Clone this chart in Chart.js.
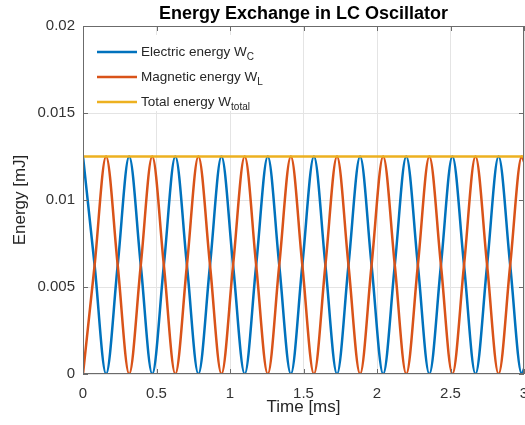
<!DOCTYPE html>
<html>
<head>
<meta charset="utf-8">
<script src="https://cdn.jsdelivr.net/npm/chart.js@4.4.1/dist/chart.umd.min.js"></script>
<style>
  body { margin: 0; background: #fff; }
  canvas { display: block; }
</style>
</head>
<body>
<canvas id="lcChart" width="525" height="425"></canvas>
<script>
// time samples at peaks, zero-crossings and troughs (ms)
const timeMs = [
    0, 0.079, 0.157, 0.236,
    0.314, 0.393, 0.471, 0.550,
    0.628, 0.707, 0.785, 0.864,
    0.942, 1.021, 1.100, 1.178,
    1.257, 1.335, 1.414, 1.492,
    1.571, 1.649, 1.728, 1.806,
    1.885, 1.963, 2.042, 2.121,
    2.199, 2.278, 2.356, 2.435,
    2.513, 2.592, 2.670, 2.749,
    2.827, 2.906, 2.985, 3.0
];

// energy values (mJ)
const electricEnergy = [
    0.0125, 0.00625, 0, 0.00625,
    0.0125, 0.00625, 0, 0.00625,
    0.0125, 0.00625, 0, 0.00625,
    0.0125, 0.00625, 0, 0.00625,
    0.0125, 0.00625, 0, 0.00625,
    0.0125, 0.00625, 0, 0.00625,
    0.0125, 0.00625, 0, 0.00625,
    0.0125, 0.00625, 0, 0.00625,
    0.0125, 0.00625, 0, 0.00625,
    0.0125, 0.00625, 0, 0.0003
];
const magneticEnergy = [
    0, 0.00625, 0.0125, 0.00625,
    0, 0.00625, 0.0125, 0.00625,
    0, 0.00625, 0.0125, 0.00625,
    0, 0.00625, 0.0125, 0.00625,
    0, 0.00625, 0.0125, 0.00625,
    0, 0.00625, 0.0125, 0.00625,
    0, 0.00625, 0.0125, 0.00625,
    0, 0.00625, 0.0125, 0.00625,
    0, 0.00625, 0.0125, 0.00625,
    0, 0.00625, 0.0125, 0.0122
];
const totalEnergy = [
    0.0125, 0.0125, 0.0125, 0.0125,
    0.0125, 0.0125, 0.0125, 0.0125,
    0.0125, 0.0125, 0.0125, 0.0125,
    0.0125, 0.0125, 0.0125, 0.0125,
    0.0125, 0.0125, 0.0125, 0.0125,
    0.0125, 0.0125, 0.0125, 0.0125,
    0.0125, 0.0125, 0.0125, 0.0125,
    0.0125, 0.0125, 0.0125, 0.0125,
    0.0125, 0.0125, 0.0125, 0.0125,
    0.0125, 0.0125, 0.0125, 0.0125
];

const xTickValues = [0, 0.5, 1, 1.5, 2, 2.5, 3];
const xTickLabels = ['0', '0.5', '1', '1.5', '2', '2.5', '3'];
const yTickValues = [0, 0.005, 0.01, 0.015, 0.02];
const yTickLabels = ['0', '0.005', '0.01', '0.015', '0.02'];

const chartTitle = 'Energy Exchange in LC Oscillator';
const seriesNames = ['Electric energy W', 'Magnetic energy W', 'Total energy W'];
const seriesSubs = ['C', 'L', 'total'];
const seriesColors = ['#0072BD', '#D95319', '#EDB120'];

const FONT = "'Liberation Sans', Arial, sans-serif";

function toPoints(values) {
    return timeMs.map((t, i) => ({ x: t, y: values[i] }));
}

// MATLAB-like box, inward ticks, title over the axes and a legend with subscripts
const matlabFrame = {
    id: 'matlabFrame',
    afterDraw(chart) {
        const { ctx, chartArea: a, scales: { x, y } } = chart;
        ctx.save();

        ctx.strokeStyle = '#6b6b6b';
        ctx.lineWidth = 1;
        ctx.strokeRect(a.left + 0.5, a.top + 0.5, a.right - a.left - 1, a.bottom - a.top - 1);

        ctx.beginPath();
        xTickValues.forEach(v => {
            const px = Math.round(x.getPixelForValue(v)) + 0.5;
            ctx.moveTo(px, a.bottom); ctx.lineTo(px, a.bottom - 5);
            ctx.moveTo(px, a.top); ctx.lineTo(px, a.top + 5);
        });
        yTickValues.forEach(v => {
            const py = Math.round(y.getPixelForValue(v)) + 0.5;
            ctx.moveTo(a.left, py); ctx.lineTo(a.left + 5, py);
            ctx.moveTo(a.right, py); ctx.lineTo(a.right - 5, py);
        });
        ctx.stroke();

        // title, centred on the axes
        ctx.fillStyle = '#000';
        ctx.font = 'bold 18px ' + FONT;
        ctx.textAlign = 'center';
        ctx.textBaseline = 'middle';
        ctx.fillText(chartTitle, (a.left + a.right) / 2, 14);

        // legend
        ctx.textAlign = 'left';
        ctx.fillStyle = '#fff';
        ctx.fillRect(a.left + 3, 35, 185, 76);
        seriesNames.forEach((name, i) => {
            const yy = 52 + i * 25;
            ctx.strokeStyle = seriesColors[i];
            ctx.lineWidth = 2.5;
            ctx.beginPath();
            ctx.moveTo(97, yy);
            ctx.lineTo(137, yy);
            ctx.stroke();
            ctx.fillStyle = '#262626';
            ctx.font = '13.5px ' + FONT;
            ctx.fillText(name, 141, yy);
            const w = ctx.measureText(name).width;
            ctx.font = '10px ' + FONT;
            ctx.fillText(seriesSubs[i], 141 + w, yy + 5);
        });
        ctx.restore();
    }
};

const ctx = document.getElementById('lcChart').getContext('2d');

new Chart(ctx, {
    type: 'line',
    data: {
        datasets: [0, 1, 2].map(i => ({
            label: seriesNames[i] + seriesSubs[i],
            data: toPoints([electricEnergy, magneticEnergy, totalEnergy][i]),
            borderColor: seriesColors[i],
            backgroundColor: seriesColors[i],
            borderWidth: 2.5,
            pointRadius: 0,
            cubicInterpolationMode: 'monotone',
            order: 3 - i
        }))
    },
    options: {
        responsive: false,
        animation: false,
        layout: { padding: { left: 0, right: 1, top: 26, bottom: 0 } },
        plugins: {
            legend: { display: false },
            tooltip: { enabled: false },
            title: { display: false }
        },
        scales: {
            x: {
                type: 'linear',
                min: 0,
                max: 3,
                border: { display: false },
                grid: { color: '#e4e4e4', drawTicks: false },
                afterBuildTicks: s => { s.ticks = xTickValues.map(v => ({ value: v })); },
                afterFit: s => { s.height = 51; s.paddingLeft = 0; s.paddingRight = 0; },
                ticks: {
                    padding: 11,
                    maxRotation: 0,
                    color: '#333',
                    font: { family: FONT, size: 15 },
                    callback: (v, i) => xTickLabels[i]
                },
                title: {
                    display: true,
                    text: 'Time [ms]',
                    color: '#262626',
                    font: { family: FONT, size: 17, lineHeight: 1.2 },
                    padding: { top: 0, bottom: 7 }
                }
            },
            y: {
                min: 0,
                max: 0.02,
                border: { display: false },
                grid: { color: '#e4e4e4', drawTicks: false },
                afterBuildTicks: s => { s.ticks = yTickValues.map(v => ({ value: v })); },
                afterFit: s => { s.width = 83; s.paddingTop = 0; s.paddingBottom = 0; },
                ticks: {
                    padding: 8,
                    color: '#333',
                    font: { family: FONT, size: 15 },
                    callback: (v, i) => yTickLabels[i]
                },
                title: {
                    display: true,
                    text: 'Energy [mJ]',
                    color: '#262626',
                    font: { family: FONT, size: 17, lineHeight: 1.2 },
                    padding: { top: 10, bottom: 0 }
                }
            }
        }
    },
    plugins: [matlabFrame]
});
</script>
</body>
</html>
